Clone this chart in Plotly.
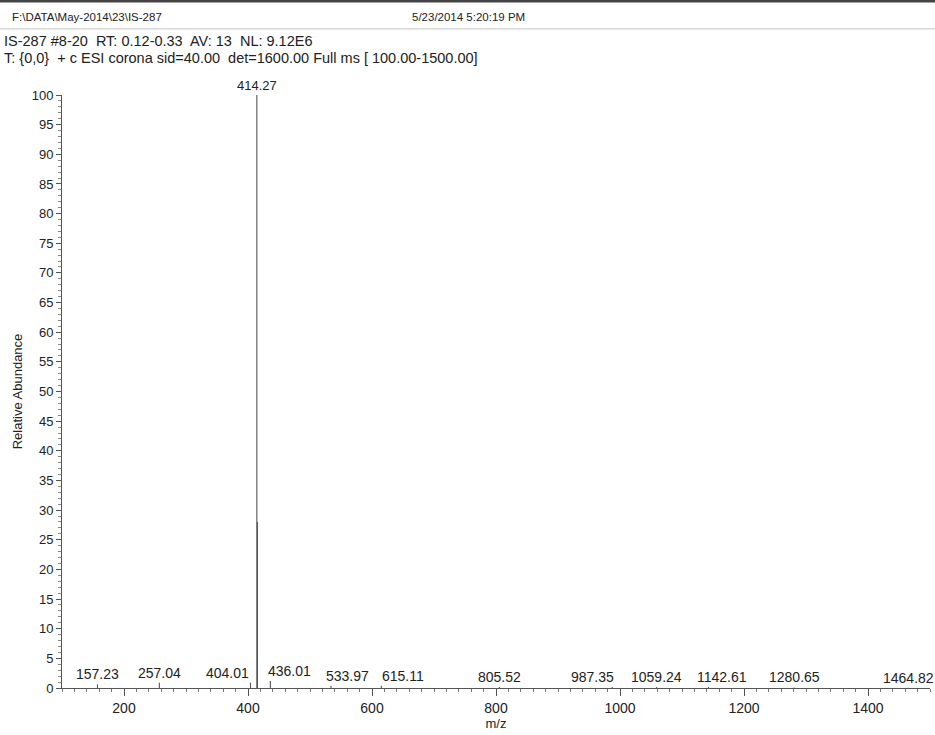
import plotly.graph_objects as go

# Peak data (m/z, relative abundance %)
peak_mz = [157.23, 257.04, 404.01, 414.27, 415.27, 436.01, 533.97, 615.11,
           805.52, 987.35, 1059.24, 1142.61, 1280.65, 1464.82]
peak_int = [0.6, 0.9, 0.9, 100.0, 28.0, 1.2, 0.4, 0.4,
            0.15, 0.15, 0.15, 0.15, 0.1, 0.05]
peak_labels = ["157.23", "257.04", "404.01", "414.27", "", "436.01", "533.97", "615.11",
               "805.52", "987.35", "1059.24", "1142.61", "1280.65", "1464.82"]
# horizontal nudges (px) applied to the labels to avoid collisions, as in the original
label_xshift = [0, 0, -23, 0, 0, 19, 16, 22, 0, -20, 0, 14, 0, 0]

x_ticks = [200, 400, 600, 800, 1000, 1200, 1400]
y_ticks = list(range(0, 101, 5))

header_file = "F:\\DATA\\May-2014\\23\\IS-287"
header_date = "5/23/2014 5:20:19 PM"
scan_line1 = "IS-287 #8-20  RT: 0.12-0.33  AV: 13  NL: 9.12E6"
scan_line2 = "T: {0,0}  + c ESI corona sid=40.00  det=1600.00 Full ms [ 100.00-1500.00]"

FONT = "Liberation Sans, Arial, sans-serif"
TXT = "#222222"

xs, ys = [], []
for m, i in zip(peak_mz, peak_int):
    xs += [m, m, None]
    ys += [0, i, None]

fig = go.Figure()
fig.add_trace(go.Scatter(x=xs, y=ys, mode="lines",
                         line=dict(color="#555555", width=1.1),
                         hoverinfo="skip", showlegend=False))

for m, i, lab, dx in zip(peak_mz, peak_int, peak_labels, label_xshift):
    if not lab:
        continue
    fig.add_annotation(x=m, y=i, text=lab, showarrow=False,
                       xanchor="center", yanchor="bottom", yshift=0, xshift=dx,
                       font=dict(family=FONT, size=14 if i < 50 else 13, color=TXT))

# header texts (paper coords computed from a 593px-tall plot area)
fig.add_annotation(xref="paper", yref="paper", x=-0.060, y=1.1315, text=header_file,
                   showarrow=False, xanchor="left", yanchor="middle",
                   font=dict(family=FONT, size=11.5, color=TXT))
fig.add_annotation(xref="paper", yref="paper", x=0.401, y=1.1315, text=header_date,
                   showarrow=False, xanchor="left", yanchor="middle",
                   font=dict(family=FONT, size=11.5, color=TXT))
fig.add_annotation(xref="paper", yref="paper", x=-0.069, y=1.0910, text=scan_line1,
                   showarrow=False, xanchor="left", yanchor="middle",
                   font=dict(family=FONT, size=14.5, color=TXT))
fig.add_annotation(xref="paper", yref="paper", x=-0.069, y=1.0625, text=scan_line2,
                   showarrow=False, xanchor="left", yanchor="middle",
                   font=dict(family=FONT, size=14.5, color=TXT))

# separator line and top border
fig.add_shape(type="line", xref="paper", yref="paper", x0=-0.075, x1=1.01, y0=1.1115, y1=1.1115,
              line=dict(color="#c4c4c4", width=1))
fig.add_shape(type="line", xref="paper", yref="paper", x0=-0.075, x1=1.01, y0=1.1585, y1=1.1585,
              line=dict(color="#444444", width=3))

fig.update_layout(
    width=935, height=735,
    margin=dict(l=62, r=5, t=95, b=47, autoexpand=False),
    paper_bgcolor="white", plot_bgcolor="white",
    font=dict(family=FONT, size=13, color=TXT),
    xaxis=dict(range=[100, 1500], tickvals=x_ticks, ticks="outside", ticklen=7,
               tickcolor="#555555", showline=True, linecolor="#555555", linewidth=1,
               showgrid=False, zeroline=False, automargin=False,
               minor=dict(dtick=20, ticklen=3, ticks="outside", tickcolor="#777777"),
               title=dict(text="m/z", standoff=0, font=dict(size=13)),
               tickfont=dict(size=14)),
    yaxis=dict(range=[0, 100], tickvals=y_ticks, ticks="outside", ticklen=5,
               tickcolor="#555555", showline=True, linecolor="#555555", linewidth=1,
               showgrid=False, zeroline=False, automargin=False,
               minor=dict(dtick=1, ticklen=3, ticks="outside", tickcolor="#888888"),
               title=dict(text="Relative Abundance", standoff=6, font=dict(size=13)),
               tickfont=dict(size=13)),
)

fig.write_html("out.html", config={"displayModeBar": False},
               post_script="document.body.style.margin='0';document.body.style.overflow='hidden';")
